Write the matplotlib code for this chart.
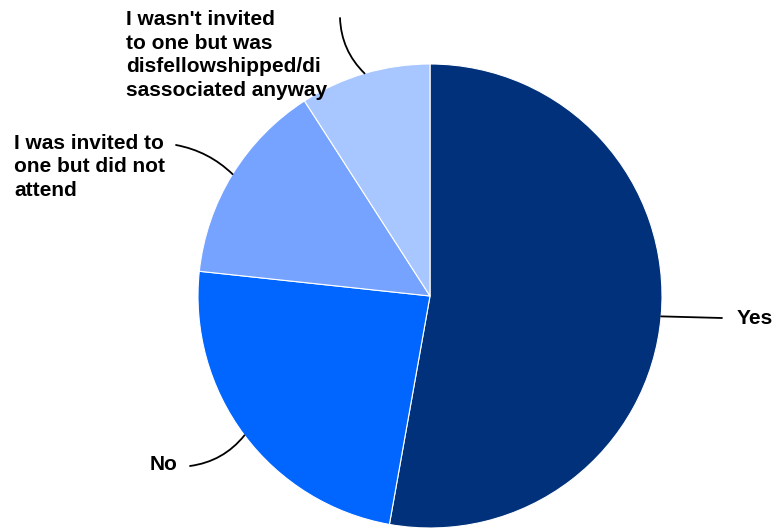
import numpy as np
import matplotlib
matplotlib.use("Agg")
import matplotlib.pyplot as plt

categories = ["Yes", "No", "I was invited to\none but did not\nattend",
              "I wasn't invited\nto one but was\ndisfellowshipped/di\nsassociated anyway"]
values = [52.8, 23.9, 14.2, 9.1]
colors = ["#00317A", "#0066FF", "#75A3FF", "#A8C6FF"]

W, H = 775, 529
fig = plt.figure(figsize=(W / 100, H / 100), dpi=100)
ax = fig.add_axes([0, 0, 1, 1])

cx, cy, R = 430, H - 296, 232
wedges, _ = ax.pie(values, colors=colors, startangle=90, counterclock=False,
                   center=(cx, cy), radius=R, frame=True,
                   wedgeprops=dict(edgecolor="white", linewidth=0.8))
ax.set_xlim(0, W)
ax.set_ylim(0, H)
ax.axis("off")

# label placement (pixel coords from top-left): text anchor, line end, rad
label_pos = [
    dict(text=(737, 318), end=(722, 318), rad=0.0),
    dict(text=(150, 465), end=(190, 466), rad=0.2),
    dict(text=(14, 167), end=(176, 145), rad=-0.15),
    dict(text=(126, 55), end=(340, 18), rad=0.2),
]

for w, cat, lp in zip(wedges, categories, label_pos):
    ang = np.deg2rad((w.theta1 + w.theta2) / 2)
    px, py = cx + R * np.cos(ang), cy + R * np.sin(ang)
    ex, ey = lp["end"]
    ax.annotate("", xy=(px, py), xytext=(ex, H - ey),
                arrowprops=dict(arrowstyle="-", color="black", lw=1.3,
                                shrinkA=0, shrinkB=0,
                                connectionstyle=f"arc3,rad={lp['rad']}"))
    tx, ty = lp["text"]
    ax.text(tx, H - ty, cat, ha="left", va="center", fontsize=15,
            fontweight="bold", family="Liberation Sans", linespacing=1.3)

fig.savefig("out.png", dpi=100)
